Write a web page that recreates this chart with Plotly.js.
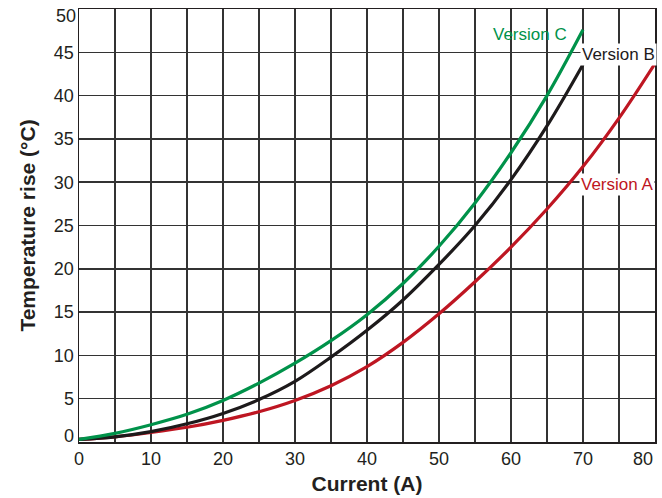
<!DOCTYPE html>
<html>
<head>
<meta charset="utf-8">
<script src="https://cdn.plot.ly/plotly-3.0.1.min.js"></script>
<style>html,body{margin:0;padding:0;background:#fff;}#chart{width:662px;height:498px;}</style>
</head>
<body>
<div id="chart"></div>
<script>
const currentBC = [0, 5, 10, 15, 20, 25, 30, 35, 40, 45, 50, 55, 60, 65, 70];
const versionC = [0.3, 1.0, 2.0, 3.2, 4.8, 6.8, 9.1, 11.7, 14.7, 18.3, 22.6, 27.6, 33.4, 40.0, 47.6];
const versionB = [0.3, 0.6, 1.2, 2.1, 3.3, 4.9, 7.0, 9.8, 12.9, 16.4, 20.5, 25.0, 30.3, 36.5, 43.6];
const currentA = [0, 5, 10, 15, 20, 25, 30, 35, 40, 45, 50, 55, 60, 65, 70, 75, 80];
const versionA = [0.3, 0.6, 1.1, 1.7, 2.5, 3.5, 4.8, 6.5, 8.7, 11.5, 14.8, 18.5, 22.5, 26.9, 31.8, 37.4, 43.7];
const seriesNames = ['Version A', 'Version B', 'Version C'];
const xTickVals = [0, 10, 20, 30, 40, 50, 60, 70, 80];
const xTickText = ['0', '10', '20', '30', '40', '50', '60', '70', '80'];
const yTickVals = [0, 5, 10, 15, 20, 25, 30, 35, 40, 45, 50];
const yTickText = ['0', '5', '10', '15', '20', '25', '30', '35', '40', '45', '50'];

const colA = '#be1622', colB = '#1d1a1b', colC = '#00924a';
const font = 'Liberation Sans, Arial, Helvetica, sans-serif';
const ink = '#231f20';
const grid = '#333333';
const tickSize = 18;

const traces = [
  {x: currentA, y: versionA, mode: 'lines', line: {color: colA, width: 3.2, shape: 'spline'}, name: seriesNames[0]},
  {x: currentBC, y: versionB, mode: 'lines', line: {color: colB, width: 3.2, shape: 'spline'}, name: seriesNames[1]},
  {x: currentBC, y: versionC, mode: 'lines', line: {color: colC, width: 3.2, shape: 'spline'}, name: seriesNames[2]}
];

// end labels (0/50 on y, 80 on x) sit inside the frame in the reference
const annotations = [
  {x: 68.1, y: 47.0, xref: 'x', yref: 'y', text: seriesNames[2], showarrow: false, xanchor: 'right', yanchor: 'middle', font: {size: 17, family: font, color: colC}},
  {x: 69.6, y: 44.8, xref: 'x', yref: 'y', text: seriesNames[1], showarrow: false, xanchor: 'left', yanchor: 'middle', font: {size: 17, family: font, color: colB}, bgcolor: '#fff', borderpad: 1},
  {x: 69.5, y: 29.7, xref: 'x', yref: 'y', text: seriesNames[0], showarrow: false, xanchor: 'left', yanchor: 'middle', font: {size: 17, family: font, color: colA}, bgcolor: '#fff', borderpad: 1},
  {x: 0, y: yTickVals[0], xref: 'paper', yref: 'y', text: yTickText[0], showarrow: false, xanchor: 'right', yanchor: 'middle', xshift: -3, yshift: 6, font: {size: tickSize, family: font, color: ink}},
  {x: 0, y: yTickVals[10], xref: 'paper', yref: 'y', text: yTickText[10], showarrow: false, xanchor: 'right', yanchor: 'middle', xshift: -1, yshift: -7, font: {size: tickSize, family: font, color: ink}},
  {x: xTickVals[8], y: 0, xref: 'x', yref: 'paper', text: xTickText[8], showarrow: false, xanchor: 'right', yanchor: 'top', xshift: 0, yshift: -5, font: {size: tickSize, family: font, color: ink}}
];

const layout = {
  width: 662, height: 498,
  margin: {l: 79, r: 7, t: 9, b: 56},
  paper_bgcolor: '#fff', plot_bgcolor: '#fff',
  showlegend: false,
  font: {family: font, color: ink},
  xaxis: {
    range: [0, 80], tickvals: xTickVals.slice(0, 8), ticktext: xTickText.slice(0, 8),
    showgrid: true, gridcolor: grid, gridwidth: 1.5,
    minor: {dtick: 5, tick0: 0, showgrid: true, gridcolor: grid, gridwidth: 1.5},
    showline: true, linecolor: ink, linewidth: 1.5, mirror: true,
    zeroline: false, ticks: '',
    tickfont: {size: tickSize, family: font, color: ink},
    title: {text: '<b>Current (A)</b>', font: {size: 21, family: font, color: ink}, standoff: 8}
  },
  yaxis: {
    range: [0, 50], tickvals: yTickVals.slice(1, 10), ticktext: yTickText.slice(1, 10),
    showgrid: true, gridcolor: grid, gridwidth: 1.5,
    showline: true, linecolor: ink, linewidth: 1.5, mirror: true,
    zeroline: false, ticks: '',
    tickfont: {size: tickSize, family: font, color: ink},
    title: {text: '<b>Temperature rise (°C)</b>', font: {size: 21, family: font, color: ink}, standoff: 12}
  },
  annotations: annotations
};

Plotly.newPlot('chart', traces, layout, {displayModeBar: false, staticPlot: true});
</script>
</body>
</html>
